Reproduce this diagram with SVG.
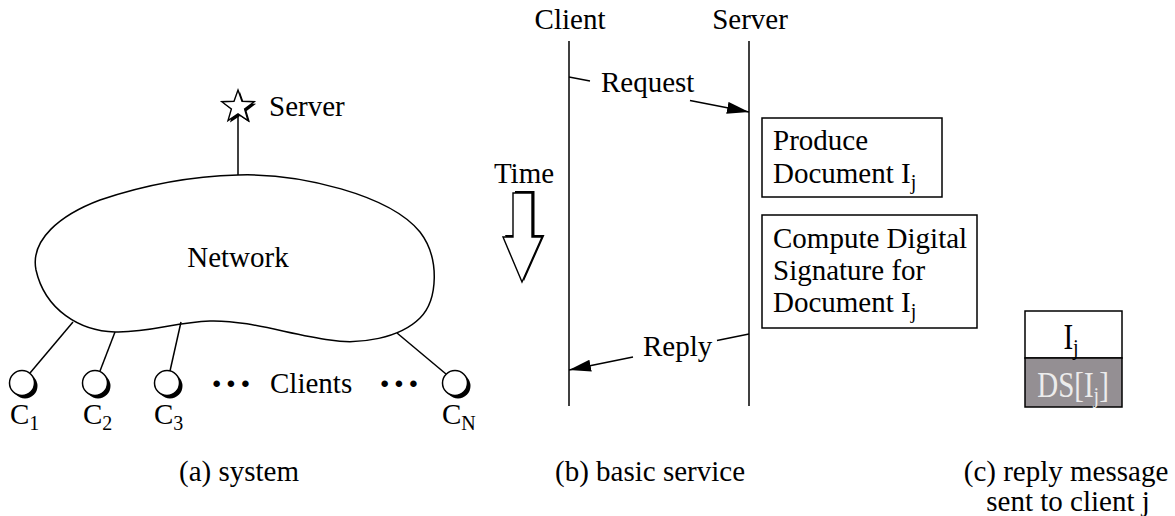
<svg xmlns="http://www.w3.org/2000/svg" width="1175" height="516" viewBox="0 0 1175 516">
<style>
text{font-family:"Liberation Serif","Times New Roman",Times,serif;font-size:29px;fill:#000}
.sub{font-size:20px}
.ln{stroke:#000;stroke-width:1.5;fill:none}
.box{fill:#fff;stroke:#000;stroke-width:1.5}
.mid{text-anchor:middle}
.dots{font-size:40px;font-weight:bold;letter-spacing:1px}
.lite{fill:#ececec}
</style>
<defs>
<marker id="ah" viewBox="0 0 22 12" refX="22" refY="6" markerWidth="22" markerHeight="12" markerUnits="userSpaceOnUse" orient="auto">
<path d="M0,0 L22,6 L0,12 Z" fill="#000"/>
</marker>
</defs>
<rect width="1175" height="516" fill="#fff"/>

<!-- Panel (a) -->
<g id="server-node">
<polygon points="240,92 244,103.3 256.2,103.7 246.6,111 250,122.6 240,115.9 230,122.6 233.4,111 223.8,103.7 236,103.3" fill="#000"/>
<polygon points="238,90 242,101.3 254.2,101.7 244.6,109 248,120.6 238,113.9 228,120.6 231.4,109 221.8,101.7 234,101.3" fill="#fff" stroke="#000" stroke-width="1.4"/>
<text x="269" y="116">Server</text>
</g>
<g id="network">
<path class="ln" d="M238,175 C300,173 390,195 420,232 C440,258 438,300 420,318 C400,338 360,345 330,340 C290,335 250,320 210,321 C175,322 150,333 115,332 C80,331 45,310 36,270 C30,240 60,215 100,200 C150,183 200,176 238,175 Z" fill="#fff"/>
<text class="mid" x="238" y="267">Network</text>
</g>
<g id="connectors-a">
<line class="ln" x1="238" y1="114" x2="238" y2="175"/>
<line class="ln" x1="30" y1="373" x2="73" y2="322"/>
<line class="ln" x1="100" y1="371" x2="115" y2="332"/>
<line class="ln" x1="170" y1="371" x2="181" y2="322"/>
<line class="ln" x1="446" y1="374" x2="397" y2="333"/>
</g>
<g id="client1">
<circle cx="25" cy="386" r="12.5" fill="#000"/>
<circle cx="22" cy="383" r="12.5" class="box"/>
<text x="10" y="424">C<tspan class="sub" dy="6">1</tspan></text>
</g>
<g id="client2">
<circle cx="98" cy="386" r="12.5" fill="#000"/>
<circle cx="95" cy="383" r="12.5" class="box"/>
<text x="83" y="424">C<tspan class="sub" dy="6">2</tspan></text>
</g>
<g id="client3">
<circle cx="170" cy="386" r="12.5" fill="#000"/>
<circle cx="167" cy="383" r="12.5" class="box"/>
<text x="154" y="424">C<tspan class="sub" dy="6">3</tspan></text>
</g>
<g id="clientN">
<circle cx="458" cy="386" r="12.5" fill="#000"/>
<circle cx="455" cy="383" r="12.5" class="box"/>
<text x="442" y="424">C<tspan class="sub" dy="6">N</tspan></text>
</g>
<g id="clients-label">
<text class="dots" x="210" y="397">···</text>
<text x="270" y="393">Clients</text>
<text class="dots" x="378" y="397">···</text>
</g>
<text class="mid" x="239" y="481">(a) system</text>

<!-- Panel (b) -->
<g id="client-lifeline">
<text class="mid" x="570" y="29">Client</text>
<line class="ln" x1="569" y1="41" x2="569" y2="406"/>
</g>
<g id="server-lifeline">
<text class="mid" x="750" y="29">Server</text>
<line class="ln" x1="749" y1="41" x2="749" y2="406"/>
</g>
<g id="time">
<text class="mid" x="524" y="183">Time</text>
<path d="M515,191 H534.5 V235 H544.5 L524,281 L505,235 H515 Z" fill="#000"/>
<path d="M513,193 H532 V237 H542 L522,282 L503,237 H513 Z" fill="#fff" stroke="#000" stroke-width="1.4"/>
</g>
<g id="produce">
<rect class="box" x="762" y="118" width="180" height="79"/>
<text x="773" y="150">Produce</text>
<text x="773" y="183">Document I<tspan class="sub" dy="6">j</tspan></text>
</g>
<g id="compute">
<rect class="box" x="762" y="215" width="215" height="113"/>
<text x="773" y="248">Compute Digital</text>
<text x="773" y="280">Signature for</text>
<text x="773" y="312">Document I<tspan class="sub" dy="6">j</tspan></text>
</g>
<g id="connectors-b">
<line class="ln" x1="569" y1="77" x2="590" y2="81"/>
<line class="ln" x1="690" y1="100.5" x2="749" y2="112" marker-end="url(#ah)"/>
<text x="601" y="92">Request</text>
<line class="ln" x1="749" y1="334" x2="717" y2="340.4"/>
<line class="ln" x1="633" y1="357" x2="569" y2="370" marker-end="url(#ah)"/>
<text x="643" y="356">Reply</text>
</g>
<text class="mid" x="650" y="481">(b) basic service</text>

<!-- Panel (c) -->
<g id="reply-message">
<rect class="box" x="1025" y="311" width="97" height="47"/>
<rect x="1025" y="358" width="97" height="49" fill="#948f93" stroke="#000" stroke-width="1.5"/>
<text class="mid" transform="translate(1071,349) scale(1,1.2)">I<tspan class="sub" dy="5">j</tspan></text>
<text class="mid lite" transform="translate(1073,397) scale(1,1.2)">DS[I<tspan class="sub lite" dy="5">j</tspan><tspan class="lite" dy="-5">]</tspan></text>
</g>
<text class="mid" x="1066" y="481">(c) reply message</text>
<text class="mid" x="1068" y="511">sent to client j</text>
</svg>
